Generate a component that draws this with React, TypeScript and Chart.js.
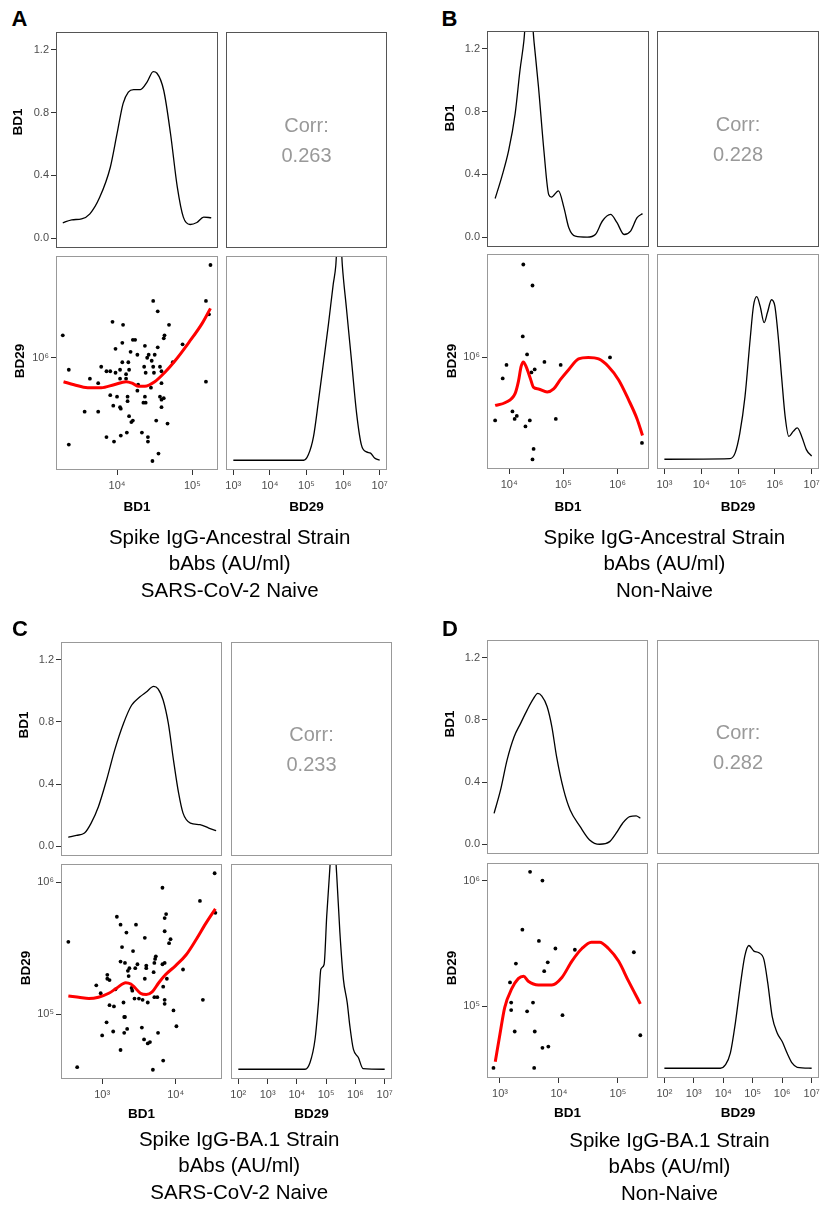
import React, { useEffect, useRef } from 'react';
import { Chart, registerables } from 'chart.js';

Chart.register(...registerables);

const FONT = '"Liberation Sans", Arial, Helvetica, sans-serif';
Chart.defaults.font.family = FONT;

// All antibody values are stored as log10(AU/ml).
// ---------- Panel A : Ancestral strain, SARS-CoV-2 naive ----------
const aBD1 = [5.24,4.48,5.18,4.54,5.22,3.94,4.08,4.69,3.28,4.63,4.62,4.21,4.24,4.07,4.37,4.87,4.54,3.98,4.18,4.27,4.42,4.50,4.40,4.46,4.07,4.15,4.74,3.79,4.36,4.48,4.57,3.36,3.86,3.91,3.98,4.04,4.16,4.59,4.12,4.38,4.49,3.64,4.04,4.12,3.75,4.59,5.18,4.28,4.45,4.27,3.91,4.00,4.14,4.37,4.57,4.62,4.59,4.14,4.35,4.38,3.95,4.04,4.05,4.59,3.57,3.75,4.16,4.21,4.19,4.52,4.67,4.13,4.33,4.05,3.86,4.41,4.41,3.96,3.36,4.55,4.47];
const aBD29 = [6.62,6.38,6.38,6.31,6.29,6.24,6.22,6.22,6.15,6.15,6.13,6.12,6.12,6.10,6.08,6.09,6.07,6.06,6.04,6.02,6.02,6.02,6.00,5.98,5.97,5.97,5.97,5.94,5.94,5.94,5.94,5.92,5.91,5.91,5.90,5.92,5.92,5.91,5.89,5.90,5.90,5.86,5.86,5.86,5.83,5.83,5.84,5.82,5.80,5.78,5.75,5.74,5.74,5.74,5.74,5.73,5.72,5.71,5.70,5.70,5.68,5.67,5.66,5.67,5.64,5.64,5.61,5.58,5.57,5.58,5.56,5.50,5.50,5.48,5.47,5.47,5.44,5.44,5.42,5.36,5.31];
const aFitBD1 = [3.29,3.43,3.61,3.79,3.96,4.12,4.20,4.28,4.37,4.50,4.63,4.77,4.95,5.13,5.24];
const aFitBD29 = [5.84,5.82,5.80,5.80,5.82,5.84,5.83,5.81,5.81,5.84,5.90,5.98,6.10,6.23,6.33];
const aDenBD1X = [3.28,3.40,3.53,3.64,3.77,3.91,4.00,4.08,4.15,4.22,4.31,4.40,4.48,4.53,4.62,4.71,4.80,4.88,4.97,5.06,5.15,5.25];
const aDenBD1Y = [0.098,0.117,0.123,0.155,0.26,0.45,0.665,0.857,0.93,0.946,0.946,0.995,1.06,1.05,0.94,0.665,0.325,0.134,0.087,0.10,0.134,0.13];
const aDenBD29X = [3.0,3.92,4.92,5.05,5.19,5.33,5.46,5.60,5.73,5.80,5.89,5.98,6.09,6.23,6.37,6.50,6.64,6.75,6.86,7.0];
const aDenBD29Y = [0,0,0,0.035,0.15,0.386,0.62,0.875,1.13,1.25,1.6,1.25,0.98,0.64,0.30,0.099,0.054,0.046,0.014,0];

// ---------- Panel B : Ancestral strain, non-naive ----------
const bBD1 = [4.26,4.43,4.25,4.33,5.86,4.65,4.95,3.95,4.47,4.41,3.88,4.06,4.14,4.10,3.74,4.38,4.86,4.30,6.45,4.45,4.43];
const bBD29 = [6.62,6.48,6.14,6.02,6.00,5.97,5.95,5.95,5.92,5.90,5.86,5.64,5.61,5.59,5.58,5.58,5.59,5.54,5.43,5.39,5.32];
const bFitBD1 = [3.74,3.93,4.11,4.17,4.22,4.26,4.31,4.39,4.45,4.54,4.70,4.82,4.94,5.10,5.28,5.46,5.65,5.83,6.02,6.20,6.36,6.46];
const bFitBD29 = [5.68,5.70,5.76,5.84,5.94,5.97,5.94,5.86,5.80,5.79,5.77,5.79,5.85,5.92,5.99,6.00,5.99,5.94,5.85,5.72,5.59,5.48];
const bDenBD1X = [3.74,3.86,3.99,4.11,4.20,4.27,4.36,4.46,4.54,4.64,4.73,4.78,4.91,5.01,5.10,5.22,5.44,5.59,5.72,5.87,5.99,6.12,6.24,6.36,6.46];
const bDenBD1Y = [0.246,0.381,0.552,0.787,1.066,1.247,1.6,1.237,0.958,0.552,0.27,0.255,0.295,0.188,0.06,0.006,0.0,0.017,0.103,0.145,0.092,0.017,0.039,0.124,0.15];
const bDenBD29X = [3.0,4.78,4.92,5.05,5.19,5.33,5.42,5.51,5.60,5.71,5.80,5.91,6.00,6.09,6.19,6.28,6.38,6.50,6.61,6.73,6.86,7.0];
const bDenBD29Y = [0,0.004,0.039,0.167,0.40,0.767,0.98,1.04,0.98,0.874,0.938,1.02,0.98,0.79,0.51,0.274,0.146,0.178,0.2,0.146,0.06,0.02];

// ---------- Panel C : BA.1 strain, SARS-CoV-2 naive ----------
const cBD1 = [4.53,3.82,4.33,4.54,3.87,3.20,3.85,3.25,3.46,3.85,3.33,3.58,3.93,3.91,2.54,3.27,3.42,3.73,3.72,3.25,3.31,3.71,3.82,3.85,3.48,3.60,3.60,3.37,3.45,3.35,4.10,3.70,3.07,3.07,3.10,3.36,3.58,3.88,2.92,3.18,3.40,3.83,3.41,2.98,3.44,3.50,3.55,3.75,3.71,3.62,3.29,3.85,3.85,3.10,3.16,4.37,3.97,3.30,3.31,3.06,3.54,3.34,4.01,3.15,3.30,3.00,3.76,3.57,3.65,3.62,3.25,3.83,2.66,3.69];
const cBD29 = [6.07,5.96,5.86,5.77,5.76,5.74,5.73,5.68,5.68,5.63,5.62,5.58,5.57,5.54,5.55,5.51,5.48,5.44,5.42,5.40,5.39,5.39,5.38,5.39,5.38,5.37,5.35,5.35,5.35,5.33,5.34,5.32,5.30,5.27,5.26,5.29,5.27,5.27,5.22,5.19,5.20,5.21,5.18,5.16,5.12,5.12,5.11,5.13,5.13,5.09,5.09,5.11,5.08,5.07,5.06,5.11,5.03,4.98,4.98,4.94,4.90,4.89,4.91,4.87,4.86,4.84,4.86,4.81,4.79,4.78,4.73,4.65,4.60,4.58];
const cFitBD1 = [2.54,2.68,2.82,2.95,3.09,3.20,3.32,3.39,3.45,3.52,3.60,3.68,3.77,3.86,4.00,4.14,4.27,4.41,4.54];
const cFitBD29 = [5.14,5.13,5.12,5.13,5.16,5.20,5.24,5.23,5.20,5.16,5.15,5.17,5.24,5.30,5.37,5.45,5.56,5.69,5.80];
const cDenBD1X = [2.54,2.65,2.76,2.85,2.95,3.06,3.17,3.29,3.40,3.51,3.60,3.70,3.76,3.83,3.90,3.97,4.04,4.10,4.20,4.33,4.45,4.55];
const cDenBD1Y = [0.058,0.07,0.085,0.149,0.256,0.426,0.618,0.789,0.906,0.959,0.991,1.027,1.012,0.938,0.789,0.554,0.341,0.213,0.149,0.139,0.117,0.10];
const cDenBD29X = [2.0,4.28,4.45,4.62,4.74,4.82,4.93,5.02,5.11,5.24,5.36,5.47,5.59,5.72,5.81,5.93,6.10,6.26,7.0];
const cDenBD29Y = [0,0,0.043,0.19,0.43,0.64,0.67,0.98,1.236,1.55,1.247,0.874,0.575,0.426,0.277,0.128,0.075,0.004,0];

// ---------- Panel D : BA.1 strain, non-naive ----------
const dBD1 = [3.51,3.72,3.38,3.66,3.94,4.27,5.27,3.81,3.27,3.75,3.17,3.19,3.56,3.19,3.46,4.06,3.25,3.59,5.38,3.72,3.82,2.89,3.58];
const dBD29 = [6.07,6.00,5.61,5.52,5.46,5.45,5.43,5.35,5.34,5.28,5.19,5.03,5.03,4.97,4.96,4.93,4.80,4.80,4.77,4.67,4.68,4.51,4.51];
const dFitBD1 = [2.92,3.00,3.08,3.20,3.31,3.40,3.48,3.65,3.88,4.05,4.22,4.39,4.55,4.69,4.84,5.01,5.18,5.38];
const dFitBD29 = [4.56,4.78,4.99,5.14,5.22,5.24,5.20,5.17,5.17,5.23,5.36,5.46,5.51,5.51,5.46,5.36,5.20,5.02];
const dDenBD1X = [2.90,3.01,3.12,3.24,3.35,3.46,3.57,3.64,3.71,3.80,3.88,3.96,4.08,4.19,4.36,4.52,4.69,4.86,4.97,5.08,5.20,5.31,5.38];
const dDenBD1Y = [0.199,0.349,0.541,0.691,0.777,0.862,0.937,0.969,0.952,0.884,0.755,0.563,0.349,0.22,0.113,0.028,0.0,0.017,0.071,0.135,0.178,0.182,0.167];
const dDenBD29X = [2.0,3.90,4.07,4.24,4.41,4.59,4.73,4.87,5.04,5.21,5.38,5.51,5.66,5.83,6.00,6.17,6.34,6.51,7.0];
const dDenBD29Y = [0,0,0.021,0.096,0.289,0.546,0.717,0.785,0.749,0.738,0.695,0.546,0.332,0.225,0.171,0.096,0.032,0.006,0];

const corrValues = ['0.263', '0.228', '0.233', '0.282'];
const captionLines = [
  ['Spike IgG-Ancestral Strain', 'bAbs (AU/ml)', 'SARS-CoV-2 Naive'],
  ['Spike IgG-Ancestral Strain', 'bAbs (AU/ml)', 'Non-Naive'],
  ['Spike IgG-BA.1 Strain', 'bAbs (AU/ml)', 'SARS-CoV-2 Naive'],
  ['Spike IgG-BA.1 Strain', 'bAbs (AU/ml)', 'Non-Naive'],
];
const densityTicks = [0, 0.4, 0.8, 1.2];

// ------------------------------------------------------------------
const P = 16;
const PAD_L = 44;
const PAD_B = 30;
const pow = (e: number) => Math.pow(10, e);
const SUP: Record<string, string> = { '0': '⁰', '1': '¹', '2': '²', '3': '³', '4': '⁴', '5': '⁵', '6': '⁶', '7': '⁷', '8': '⁸', '9': '⁹', '-': '⁻' };
const supLabel = (v: number) => '10' + String(Math.round(Math.log10(v))).split('').map((c) => SUP[c]).join('');
const decadeTicks = (r: number[]) => {
  const t: { value: number }[] = [];
  for (let e = Math.ceil(r[0]); e <= Math.floor(r[1]); e++) t.push({ value: pow(e) });
  return t;
};

const framePlugin = {
  id: 'frame',
  afterDraw(chart: any, _args: any, opts: any) {
    const { ctx, chartArea: a } = chart;
    ctx.save();
    ctx.strokeStyle = (opts && opts.color) || '#999';
    ctx.lineWidth = 1;
    ctx.strokeRect(a.left + 0.5, a.top + 0.5, a.right - a.left - 1, a.bottom - a.top - 1);
    ctx.restore();
  },
};

const gridCfg = { display: true, drawOnChartArea: false, drawTicks: true, tickLength: 5, color: '#333333', lineWidth: 1 };
const tickBase = { color: '#4d4d4d', font: { family: FONT, size: 11 }, autoSkip: false, maxRotation: 0, minRotation: 0 };

function logX(range: number[], show: boolean) {
  return {
    type: 'logarithmic', position: 'bottom', display: show, bounds: 'data',
    min: pow(range[0]), max: pow(range[1]),
    afterBuildTicks: (ax: any) => { ax.ticks = decadeTicks(range); },
    afterFit: (ax: any) => { if (show) ax.height = PAD_B; },
    grid: gridCfg, border: { display: false },
    ticks: { ...tickBase, padding: 4, callback: (v: any) => supLabel(Number(v)) },
  };
}
function logY(range: number[]) {
  return {
    type: 'logarithmic', position: 'left', display: true, bounds: 'data',
    min: pow(range[0]), max: pow(range[1]),
    afterBuildTicks: (ax: any) => { ax.ticks = decadeTicks(range); },
    afterFit: (ax: any) => { ax.width = PAD_L; },
    grid: gridCfg, border: { display: false },
    ticks: { ...tickBase, padding: 2, callback: (v: any) => supLabel(Number(v)) },
  };
}
function densY(show: boolean) {
  return {
    type: 'linear', position: 'left', display: show, min: -0.0625, max: 1.3125,
    afterBuildTicks: (ax: any) => { ax.ticks = densityTicks.map((v) => ({ value: v })); },
    afterFit: (ax: any) => { if (show) ax.width = PAD_L; },
    grid: gridCfg, border: { display: false },
    ticks: { ...tickBase, padding: 2, callback: (v: any) => Number(v).toFixed(1) },
  };
}
const baseOpts = (frame: string) => ({
  responsive: false, animation: false, events: [],
  layout: { padding: P },
  plugins: { legend: { display: false }, tooltip: { enabled: false }, frame: { color: frame } },
});
const densDS = (xs: number[], ys: number[]) => ({
  data: xs.map((x, i) => ({ x: pow(x), y: ys[i] })),
  showLine: true, borderColor: '#000', borderWidth: 1.3, pointRadius: 0,
  cubicInterpolationMode: 'monotone', fill: false,
});

type Box = { l: number; t: number; w: number; h: number };
type PanelDef = {
  letter: string; letterX: number; letterBase: number;
  tl: Box; tr: Box; bl: Box; br: Box; frameTop: string; frameBottom: string;
  sx: number[]; sy: number[]; dx: number[];
  bd1: number[]; bd29: number[]; fit1: number[]; fit29: number[];
  d1x: number[]; d1y: number[]; d29x: number[]; d29y: number[];
  corr: string; caption: string[];
  yt1: number[]; yt2: number[]; xtBase: number; capX: number; capBase: number[];
};

const panels: PanelDef[] = [
  {
    letter: 'A', letterX: 11.5, letterBase: 26.7,
    tl: { l: 56, t: 32, w: 162, h: 216 }, tr: { l: 226, t: 32, w: 161, h: 216 },
    bl: { l: 56, t: 256, w: 162, h: 214 }, br: { l: 226, t: 256, w: 161, h: 214 },
    frameTop: '#555555', frameBottom: '#999999',
    sx: [3.19, 5.34], sy: [5.25, 6.68], dx: [2.8, 7.2],
    bd1: aBD1, bd29: aBD29, fit1: aFitBD1, fit29: aFitBD29,
    d1x: aDenBD1X, d1y: aDenBD1Y, d29x: aDenBD29X, d29y: aDenBD29Y,
    corr: corrValues[0], caption: captionLines[0],
    yt1: [18.3, 122], yt2: [20, 361], xtBase: 511.7, capX: 229.7, capBase: [544.3, 570.8, 597.3],
  },
  {
    letter: 'B', letterX: 441.5, letterBase: 26.7,
    tl: { l: 487, t: 31, w: 162, h: 216 }, tr: { l: 657, t: 31, w: 162, h: 216 },
    bl: { l: 487, t: 254, w: 162, h: 215 }, br: { l: 657, t: 254, w: 162, h: 215 },
    frameTop: '#555555', frameBottom: '#999999',
    sx: [3.59, 6.58], sy: [5.256, 6.69], dx: [2.8, 7.2],
    bd1: bBD1, bd29: bBD29, fit1: bFitBD1, fit29: bFitBD29,
    d1x: bDenBD1X, d1y: bDenBD1Y, d29x: bDenBD29X, d29y: bDenBD29Y,
    corr: corrValues[1], caption: captionLines[1],
    yt1: [450, 118.3], yt2: [452, 360.8], xtBase: 511.7, capX: 664.4, capBase: [544.3, 570.8, 597.3],
  },
  {
    letter: 'C', letterX: 12, letterBase: 636.7,
    tl: { l: 61, t: 642, w: 161, h: 214 }, tr: { l: 231, t: 642, w: 161, h: 214 },
    bl: { l: 61, t: 864, w: 161, h: 215 }, br: { l: 231, t: 864, w: 161, h: 215 },
    frameTop: '#999999', frameBottom: '#999999',
    sx: [2.44, 4.63], sy: [4.51, 6.14], dx: [1.75, 7.25],
    bd1: cBD1, bd29: cBD29, fit1: cFitBD1, fit29: cFitBD29,
    d1x: cDenBD1X, d1y: cDenBD1Y, d29x: cDenBD29X, d29y: cDenBD29Y,
    corr: corrValues[2], caption: captionLines[2],
    yt1: [23.7, 725], yt2: [26.2, 968.3], xtBase: 1118.3, capX: 239.2, capBase: [1146.7, 1172.7, 1199],
  },
  {
    letter: 'D', letterX: 442, letterBase: 636.7,
    tl: { l: 487, t: 640, w: 161, h: 214 }, tr: { l: 657, t: 640, w: 162, h: 214 },
    bl: { l: 487, t: 863, w: 161, h: 215 }, br: { l: 657, t: 863, w: 162, h: 215 },
    frameTop: '#999999', frameBottom: '#999999',
    sx: [2.78, 5.51], sy: [4.43, 6.14], dx: [1.75, 7.25],
    bd1: dBD1, bd29: dBD29, fit1: dFitBD1, fit29: dFitBD29,
    d1x: dDenBD1X, d1y: dDenBD1Y, d29x: dDenBD29X, d29y: dDenBD29Y,
    corr: corrValues[3], caption: captionLines[3],
    yt1: [450, 724], yt2: [452, 968], xtBase: 1117.3, capX: 669.5, capBase: [1147.7, 1173.7, 1200],
  },
];

function topDensityConfig(p: PanelDef) {
  return {
    type: 'scatter',
    data: { datasets: [densDS(p.d1x, p.d1y)] },
    options: { ...baseOpts(p.frameTop), scales: { x: logX(p.sx, false), y: densY(true) } },
    plugins: [framePlugin],
  };
}
function bottomDensityConfig(p: PanelDef) {
  return {
    type: 'scatter',
    data: { datasets: [densDS(p.d29x, p.d29y)] },
    options: { ...baseOpts(p.frameBottom), scales: { x: logX(p.dx, true), y: densY(false) } },
    plugins: [framePlugin],
  };
}
function scatterConfig(p: PanelDef) {
  return {
    type: 'scatter',
    data: {
      datasets: [
        {
          data: p.fit1.map((x, i) => ({ x: pow(x), y: pow(p.fit29[i]) })),
          showLine: true, borderColor: '#ff0000', borderWidth: 3, pointRadius: 0,
          cubicInterpolationMode: 'monotone', fill: false,
        },
        {
          data: p.bd1.map((x, i) => ({ x: pow(x), y: pow(p.bd29[i]) })),
          pointRadius: 1.9, pointBackgroundColor: '#000', pointBorderWidth: 0, borderColor: '#000',
        },
      ],
    },
    options: { ...baseOpts(p.frameBottom), scales: { x: logX(p.sx, true), y: logY(p.sy) } },
    plugins: [framePlugin],
  };
}

function ChartBox({ box, padL, padB, config }: { box: Box; padL: number; padB: number; config: any }) {
  const ref = useRef<HTMLCanvasElement | null>(null);
  const W = box.w + padL + 2 * P;
  const H = box.h + padB + 2 * P;
  useEffect(() => {
    const c = new Chart(ref.current as HTMLCanvasElement, config);
    return () => c.destroy();
  }, []);
  return (
    <canvas ref={ref} width={W} height={H}
      style={{ position: 'absolute', left: box.l - padL - P, top: box.t - P, width: W, height: H }} />
  );
}

function T({ x, base, size, bold, center, color, children }: any) {
  return (
    <div style={{
      position: 'absolute', left: x, top: base - 0.8465 * size, fontSize: size, lineHeight: `${size}px`,
      fontFamily: FONT, fontWeight: bold ? 700 : 400, color: color || '#000', whiteSpace: 'nowrap',
      transform: center ? 'translateX(-50%)' : undefined,
    }}>{children}</div>
  );
}
function VT({ cx, cy, size, children }: any) {
  return (
    <div style={{
      position: 'absolute', left: cx, top: cy, fontSize: size, lineHeight: `${size}px`, fontFamily: FONT,
      fontWeight: 700, color: '#000', whiteSpace: 'nowrap', transform: 'translate(-50%, -50%) rotate(-90deg)',
    }}>{children}</div>
  );
}
function CorrBox({ box, color, value }: { box: Box; color: string; value: string }) {
  return (
    <div style={{
      position: 'absolute', left: box.l, top: box.t, width: box.w, height: box.h, boxSizing: 'border-box',
      border: `1px solid ${color}`, display: 'flex', flexDirection: 'column', alignItems: 'center',
      justifyContent: 'center', fontFamily: FONT, fontSize: 20, lineHeight: '30px', color: '#999999',
    }}>
      <div>Corr:</div>
      <div>{value}</div>
    </div>
  );
}

function Panel({ p }: { p: PanelDef }) {
  return (
    <>
      <T x={p.letterX} base={p.letterBase} size={22} bold>{p.letter}</T>
      <ChartBox box={p.tl} padL={PAD_L} padB={0} config={topDensityConfig(p)} />
      <CorrBox box={p.tr} color={p.frameTop} value={p.corr} />
      <ChartBox box={p.bl} padL={PAD_L} padB={PAD_B} config={scatterConfig(p)} />
      <ChartBox box={p.br} padL={0} padB={PAD_B} config={bottomDensityConfig(p)} />
      <VT cx={p.yt1[0]} cy={p.yt1[1]} size={13.5}>BD1</VT>
      <VT cx={p.yt2[0]} cy={p.yt2[1]} size={13.5}>BD29</VT>
      <T x={p.bl.l + p.bl.w / 2} base={p.xtBase} size={13.5} bold center>BD1</T>
      <T x={p.br.l + p.br.w / 2} base={p.xtBase} size={13.5} bold center>BD29</T>
      {p.caption.map((line, i) => (
        <T key={i} x={p.capX} base={p.capBase[i]} size={20.5} center>{line}</T>
      ))}
    </>
  );
}

export default function App() {
  return (
    <div style={{ position: 'absolute', left: 0, top: 0, width: 820, height: 1205, overflow: 'hidden', background: '#fff' }}>
      {panels.map((p) => <Panel key={p.letter} p={p} />)}
    </div>
  );
}
